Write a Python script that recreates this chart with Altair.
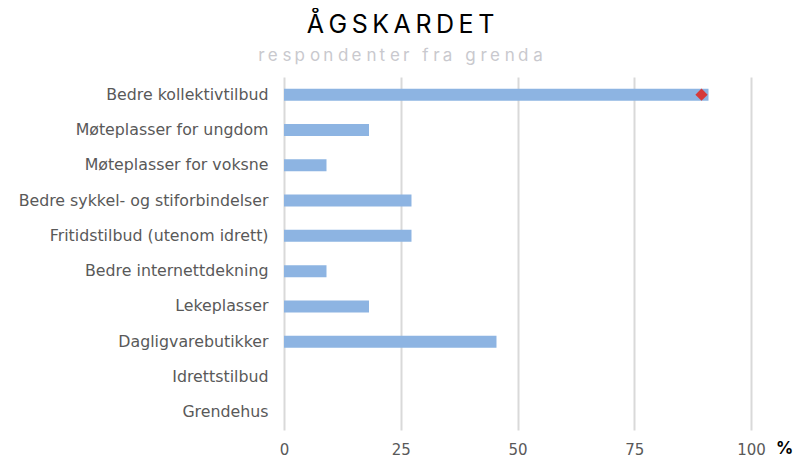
import altair as alt
import pandas as pd

categories = [
    "Bedre kollektivtilbud",
    "Møteplasser for ungdom",
    "Møteplasser for voksne",
    "Bedre sykkel- og stiforbindelser",
    "Fritidstilbud (utenom idrett)",
    "Bedre internettdekning",
    "Lekeplasser",
    "Dagligvarebutikker",
    "Idrettstilbud",
    "Grendehus",
]
values = [90.9, 18.2, 9.1, 27.3, 27.3, 9.1, 18.2, 45.5, 0, 0]
marker_categories = ["Bedre kollektivtilbud"]
marker_values = [89.4]

title_text = "ÅGSKARDET"
subtitle_text = "respondenter fra grenda"

df = pd.DataFrame({"kategori": categories, "verdi": values})
dm = pd.DataFrame({"kategori": marker_categories, "verdi": marker_values})

FONT = "Inter"
LABEL_FONT = "DejaVu Sans"


def spaced(s, seps=("\u2009",)):
    out = ""
    for i, ch in enumerate(s):
        if i > 0:
            out += seps[i % len(seps)]
        out += ch
    return out


x_scale = alt.Scale(domain=[0, 100], nice=False, zero=True)
y_enc = alt.Y(
    "kategori:N",
    sort=categories,
    scale=alt.Scale(paddingInner=0.66, paddingOuter=0.33),
    axis=alt.Axis(
        title=None, ticks=False, domain=False, grid=False,
        labelPadding=16, labelFontSize=15.8, labelColor="#595959",
        labelFont=LABEL_FONT, labelLimit=400,
    ),
)

bars = alt.Chart(df).mark_bar(color="#8db4e2").encode(
    x=alt.X(
        "verdi:Q",
        scale=x_scale,
        axis=alt.Axis(
            values=[0, 25, 50, 75, 100],
            ticks=False, domain=False, labelFlush=False,
            grid=True, gridColor="#d9d9d9", gridWidth=2,
            labelPadding=12, labelFontSize=15, labelColor="#595959",
            labelFont=LABEL_FONT,
            title="%", titleX=500, titleY=18, titleAlign="center",
            titleBaseline="middle", titleFontSize=17, titleFontWeight="bold",
            titleColor="#000000", titleFont=FONT,
        ),
    ),
    y=y_enc,
)

marker = alt.Chart(dm).mark_point(
    shape="diamond", filled=True, color="#d63a3a", size=150, opacity=1
).encode(
    x=alt.X("verdi:Q", scale=x_scale),
    y=alt.Y("kategori:N", sort=categories),
)

chart = (
    alt.layer(bars, marker)
    .properties(
        width=467,
        height=353,
        autosize=alt.AutoSizeParams(type="none"),
        padding={"left": 276, "top": 69, "right": 42, "bottom": 28},
        title=alt.TitleParams(
            text=spaced(title_text),
            subtitle=spaced(subtitle_text, ("\u2008", "\u2009")),
            anchor="middle",
            dx=-117,
            offset=13,
            font=FONT, fontSize=25, fontWeight="normal", color="#000000",
            subtitleFont=FONT, subtitleFontSize=17, subtitleColor="#c9c9ce",
            subtitlePadding=10,
        ),
    )
    .configure_view(stroke=None)
    .configure_title(limit=800)
)

chart.save("out.html", embed_options={"renderer": "svg", "actions": False})
